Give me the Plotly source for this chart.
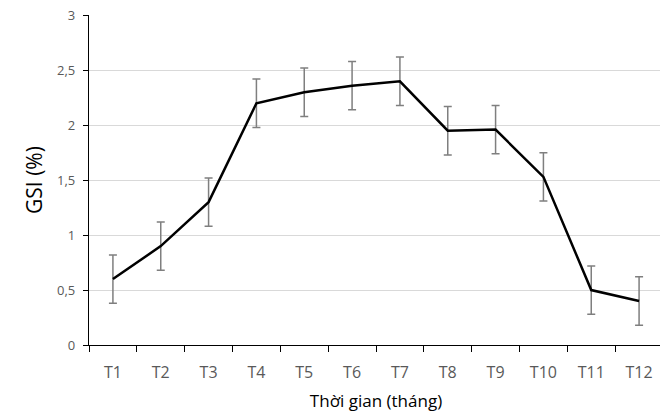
import plotly.graph_objects as go

months = ["T1", "T2", "T3", "T4", "T5", "T6", "T7", "T8", "T9", "T10", "T11", "T12"]
gsi = [0.60, 0.90, 1.30, 2.20, 2.30, 2.36, 2.40, 1.95, 1.96, 1.53, 0.50, 0.40]
gsi_err = [0.22, 0.22, 0.22, 0.22, 0.22, 0.22, 0.22, 0.22, 0.22, 0.22, 0.22, 0.22]
y_tickvals = [0, 0.5, 1, 1.5, 2, 2.5, 3]
y_ticktext = ["0", "0,5", "1", "1,5", "2", "2,5", "3"]

fig = go.Figure()
fig.add_trace(go.Scatter(
    x=months, y=gsi, mode="lines",
    line=dict(color="black", width=2.5),
    error_y=dict(type="data", array=gsi_err, visible=True,
                 color="#7f7f7f", thickness=1.5, width=4),
    showlegend=False,
))

font_family = "Open Sans, Liberation Sans, sans-serif"
fig.update_layout(
    width=660, height=405,
    margin=dict(l=81, r=5, t=7, b=68),
    paper_bgcolor="white", plot_bgcolor="white",
    font=dict(family=font_family, color="#595959", size=12),
    xaxis=dict(
        range=[-0.5, 11.5],
        automargin=False,
        showline=True, linecolor="black", linewidth=1.3,
        ticks="outside", tickson="boundaries", ticklen=6, tickcolor="black",
        tickfont=dict(size=16, color="#595959"),
        ticklabelstandoff=13,
        showgrid=False,
        title=dict(text="Thời gian (tháng)", font=dict(size=17, color="black"), standoff=12),
    ),
    yaxis=dict(
        range=[0, 3.003],
        automargin=False,
        tickvals=y_tickvals, ticktext=y_ticktext,
        showline=True, linecolor="black", linewidth=1.3,
        ticks="outside", ticklen=5, tickcolor="black",
        tickfont=dict(size=13, color="#595959"),
        ticklabelstandoff=5, ticklabeloverflow="allow",
        showgrid=True, gridcolor="#d9d9d9", gridwidth=1,
        zeroline=False,
        title=dict(text="GSI (%)", font=dict(size=21, color="black"), standoff=8),
    ),
)

fig.write_html("out.html")
